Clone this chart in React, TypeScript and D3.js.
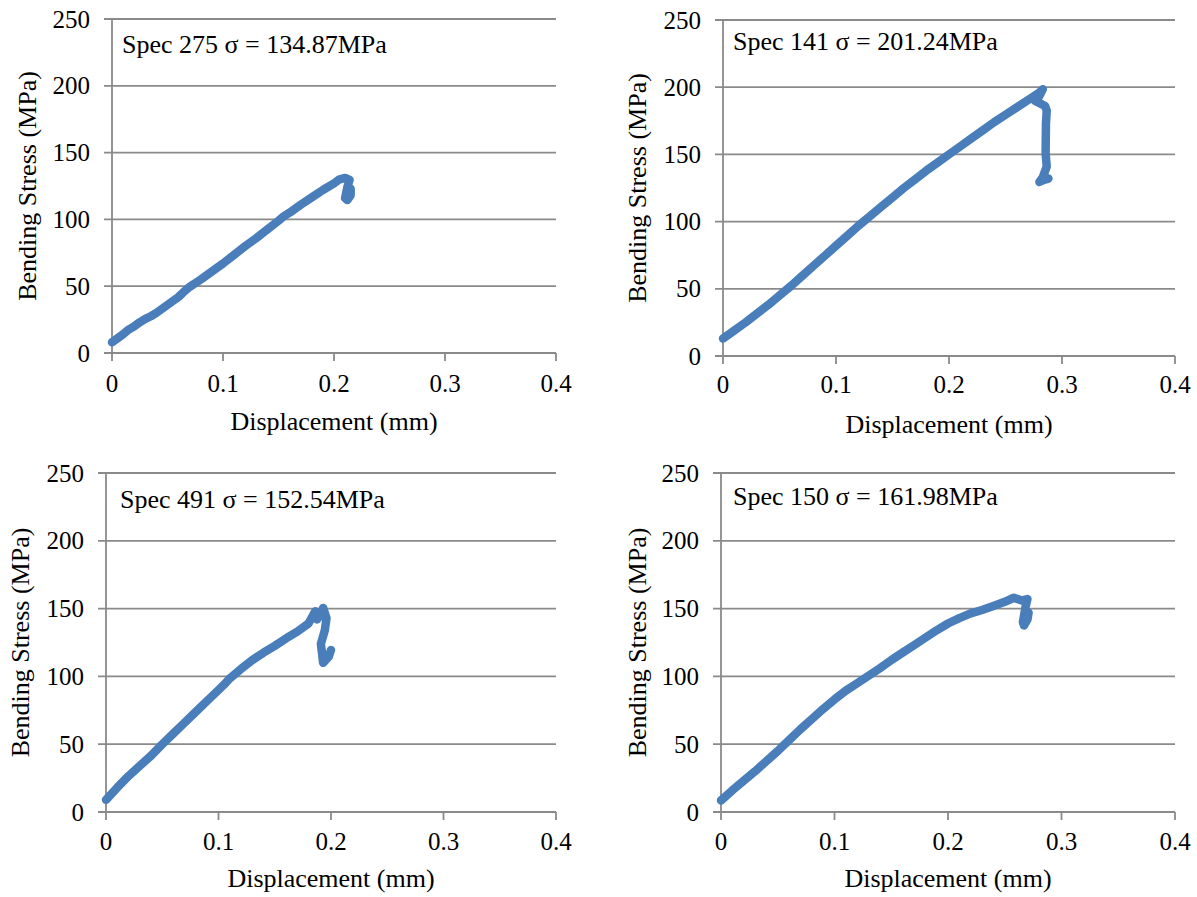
import React from "react";
import * as d3 from "d3";

// ---------- data ----------
const xTicks = [0, 0.1, 0.2, 0.3, 0.4];
const xTickLabels = ["0", "0.1", "0.2", "0.3", "0.4"];
const yTicks = [0, 50, 100, 150, 200, 250];
const yTickLabels = ["0", "50", "100", "150", "200", "250"];
const xTitle = "Displacement (mm)";
const yTitle = "Bending Stress (MPa)";

const spec275Label = "Spec 275 σ = 134.87MPa";
const spec275: [number, number][] = [
  [0, 8], [0.005, 11], [0.01, 14], [0.015, 17.5], [0.02, 20], [0.025, 23], [0.03, 25.5],
  [0.035, 27.5], [0.04, 30], [0.045, 33], [0.05, 36], [0.06, 42], [0.065, 46],
  [0.07, 49.5], [0.08, 55], [0.09, 61], [0.1, 67], [0.11, 73.5], [0.12, 80],
  [0.13, 86], [0.14, 92.5], [0.15, 99], [0.155, 102.5], [0.16, 105], [0.17, 111],
  [0.18, 116.5], [0.19, 122], [0.2, 127], [0.205, 130], [0.21, 131], [0.214, 129.5],
  [0.212, 124], [0.21, 116], [0.212, 114.5], [0.215, 118], [0.215, 123],
];

const spec141Label = "Spec 141 σ = 201.24MPa";
const spec141: [number, number][] = [
  [0, 13], [0.01, 19], [0.02, 25], [0.03, 31.5], [0.04, 38], [0.05, 45], [0.06, 52],
  [0.07, 59.5], [0.08, 67], [0.09, 74.5], [0.1, 82], [0.11, 89.5], [0.12, 97],
  [0.13, 104], [0.14, 111], [0.15, 118], [0.16, 125], [0.17, 131.5], [0.18, 138],
  [0.19, 144], [0.2, 150], [0.21, 156], [0.22, 162], [0.23, 168], [0.24, 174],
  [0.25, 179.5], [0.26, 185], [0.27, 190.5], [0.28, 196], [0.283, 198.5],
  [0.279, 192], [0.276, 190], [0.285, 186], [0.2865, 182.5], [0.2858, 173],
  [0.2855, 151], [0.2865, 141], [0.283, 133], [0.28, 129.5], [0.284, 131], [0.288, 132],
];

const spec491Label = "Spec 491 σ = 152.54MPa";
const spec491: [number, number][] = [
  [0, 9], [0.01, 18], [0.02, 26.5], [0.03, 34], [0.04, 41.5], [0.05, 50], [0.06, 58],
  [0.07, 66], [0.08, 74], [0.09, 82], [0.1, 90], [0.105, 94], [0.11, 98.5], [0.12, 105.5],
  [0.13, 112], [0.14, 117.5], [0.15, 122.5], [0.16, 128], [0.17, 133], [0.18, 139],
  [0.186, 148], [0.1876, 142], [0.19, 145], [0.193, 150.5], [0.196, 143],
  [0.1945, 134], [0.191, 124], [0.193, 110], [0.198, 114.5], [0.2, 119.5],
];

const spec150Label = "Spec 150 σ = 161.98MPa";
const spec150: [number, number][] = [
  [0, 8.5], [0.01, 16], [0.02, 23], [0.03, 30], [0.04, 37.5], [0.05, 45], [0.06, 53],
  [0.07, 61], [0.08, 68.5], [0.09, 76], [0.1, 83], [0.11, 89.5], [0.12, 95],
  [0.13, 100.5], [0.14, 106], [0.15, 112], [0.16, 117.5], [0.17, 123], [0.18, 128.5],
  [0.19, 134], [0.2, 139], [0.21, 143], [0.22, 146.5], [0.23, 149], [0.24, 152],
  [0.25, 155], [0.258, 158], [0.265, 156], [0.27, 157], [0.268, 150],
  [0.266, 140], [0.267, 137.5], [0.27, 142], [0.271, 147],
];

// ---------- layout ----------
const panels = [
  { label: spec275Label, data: spec275, left: 112, right: 556, top: 19, bottom: 353, titleX: 36, xTitleY: 430, tickY: 392, annY: 53, annX: 122 },
  { label: spec141Label, data: spec141, left: 723, right: 1175, top: 20, bottom: 356, titleX: 646, xTitleY: 433, tickY: 393, annY: 50, annX: 733 },
  { label: spec491Label, data: spec491, left: 106, right: 556, top: 473, bottom: 812, titleX: 29, xTitleY: 887, tickY: 850, annY: 508, annX: 120 },
  { label: spec150Label, data: spec150, left: 721, right: 1175, top: 473, bottom: 812, titleX: 646, xTitleY: 887, tickY: 850, annY: 505, annX: 733 },
];

const FONT = "'Liberation Serif', 'Times New Roman', serif";
const GRID = "#8a8a8a";
const LINE = "#4a7ebb";

function Panel({ p }: { p: (typeof panels)[number] }) {
  const x = d3.scaleLinear().domain([0, 0.4]).range([p.left, p.right]);
  const y = d3.scaleLinear().domain([0, 250]).range([p.bottom, p.top]);
  const line = d3
    .line<[number, number]>()
    .x((d) => x(d[0]))
    .y((d) => y(d[1]))
    .curve(d3.curveLinear);
  const cy = (p.top + p.bottom) / 2;
  const cx = (p.left + p.right) / 2;
  return (
    <g>
      {yTicks.map((t, i) => (
        <g key={"y" + i}>
          <line x1={p.left - 8} x2={p.right} y1={y(t)} y2={y(t)} stroke={GRID} strokeWidth={1.8} />
          <text x={p.left - 22} y={y(t)} dy="0.34em" textAnchor="end" fontFamily={FONT} fontSize={25} fill="#000">
            {yTickLabels[i]}
          </text>
        </g>
      ))}
      <line x1={p.left} x2={p.left} y1={p.top} y2={p.bottom} stroke={GRID} strokeWidth={1.8} />
      {xTicks.map((t, i) => (
        <g key={"x" + i}>
          <line x1={x(t)} x2={x(t)} y1={p.bottom} y2={p.bottom + 8} stroke={GRID} strokeWidth={1.8} />
          <text x={x(t)} y={p.tickY} textAnchor="middle" fontFamily={FONT} fontSize={25} fill="#000">
            {xTickLabels[i]}
          </text>
        </g>
      ))}
      <path d={line(p.data) || ""} fill="none" stroke={LINE} strokeWidth={8.5} strokeLinejoin="round" strokeLinecap="round" />
      <text x={p.annX} y={p.annY} fontFamily={FONT} fontSize={26} fill="#000">
        {p.label}
      </text>
      <text x={cx} y={p.xTitleY} textAnchor="middle" fontFamily={FONT} fontSize={26} fill="#000">
        {xTitle}
      </text>
      <text
        transform={`translate(${p.titleX},${cy}) rotate(-90)`}
        textAnchor="middle"
        fontFamily={FONT}
        fontSize={26}
        fill="#000"
      >
        {yTitle}
      </text>
    </g>
  );
}

export default function App() {
  return (
    <svg
      width={1197}
      height={897}
      style={{ position: "absolute", left: 0, top: 0, background: "#fff" }}
    >
      <rect width={1197} height={897} fill="#fff" />
      {panels.map((p, i) => (
        <Panel key={i} p={p} />
      ))}
    </svg>
  );
}
